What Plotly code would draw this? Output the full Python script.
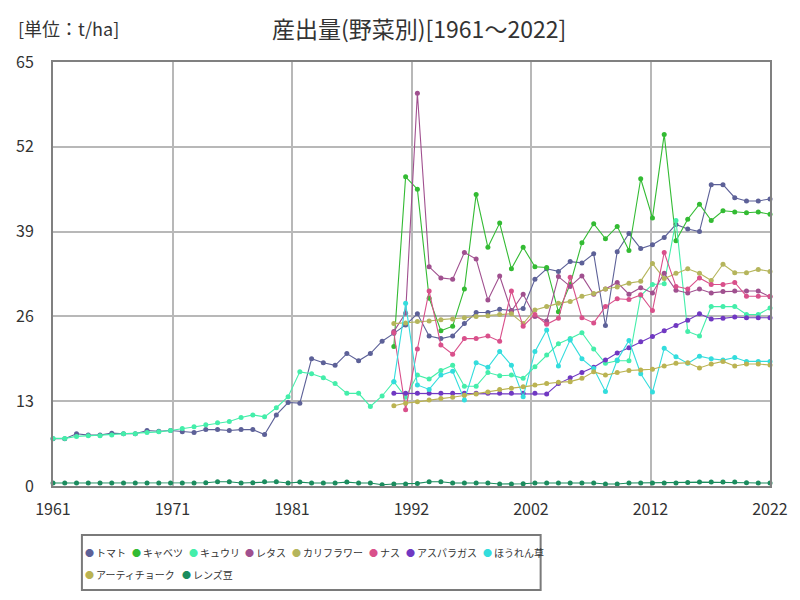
import plotly.graph_objects as go

years_all = list(range(1961, 2023))
years_90 = list(range(1990, 2023))

tomato = [7.25, 7.25, 8.0, 7.8, 7.8, 8.1, 8.0, 8.0, 8.5, 8.4,
          8.5, 8.3, 8.2, 8.65, 8.65, 8.5, 8.65, 8.65, 7.9, 10.9,
          12.8, 12.7, 19.5, 18.9, 18.5, 20.3, 19.2, 20.3, 22.2, 23.4,
          24.7, 26.4, 23.0, 22.6, 23.0, 24.9, 26.6, 26.6, 27.1, 26.9,
          27.2, 31.7, 33.3, 32.9, 34.4, 34.2, 35.6, 24.6, 35.9, 38.7,
          36.4, 37.0, 38.1, 40.1, 39.4, 39.0, 46.2, 46.2, 44.2, 43.7,
          43.7, 44.0]
cabbage = [21.4, 47.4, 45.5, 28.8, 23.8, 24.5, 30.2, 44.7, 36.6, 40.3,
           33.3, 36.6, 33.6, 33.5, 26.7, 30.9, 37.3, 40.2, 37.9, 39.8,
           36.1, 47.1, 41.1, 53.9, 37.6, 40.9, 43.2, 40.7, 42.2, 42.0,
           41.9, 42.0, 41.65]
cucumber = [7.3, 7.3, 7.6, 7.7, 7.7, 7.8, 8.0, 8.0, 8.2, 8.3,
            8.5, 8.8, 9.1, 9.4, 9.7, 9.9, 10.5, 10.9, 10.6, 12.0,
            13.7, 17.5, 17.2, 16.6, 15.7, 14.2, 14.2, 12.2, 13.8, 16.0,
            13.6, 17.0, 16.4, 17.7, 18.5, 15.3, 15.3, 17.4, 16.9, 17.0,
            16.5, 18.3, 20.1, 21.8, 22.6, 23.5, 21.0, 18.8, 19.2, 19.2,
            29.2, 30.9, 31.0, 40.7, 23.7, 23.0, 27.5, 27.5, 27.5, 26.3,
            26.3, 27.3]
lettuce = [23.7, 26.5, 60.2, 33.6, 31.9, 31.7, 35.8, 34.8, 28.5, 32.2,
           26.8, 29.4, 26.0, 25.3, 32.1, 30.6, 32.2, 29.4, 30.2, 31.2,
           29.4, 30.4, 29.6, 32.6, 30.0, 29.6, 30.2, 29.6, 29.8, 29.9,
           29.9, 29.9, 29.0]
cauliflower = [24.9, 25.0, 25.2, 25.3, 25.5, 25.6, 25.8, 26.0, 26.1, 26.3,
               26.4, 24.9, 27.0, 27.5, 28.0, 28.3, 29.1, 29.5, 30.2, 30.5,
               31.1, 31.4, 34.1, 31.8, 32.6, 33.3, 32.6, 31.5, 34.0, 32.7,
               32.7, 33.2, 32.9]
eggplant = [23.5, 11.7, 21.0, 29.9, 21.6, 20.2, 22.6, 22.6, 23.0, 22.2,
            29.9, 24.5, 26.3, 24.8, 25.7, 32.0, 25.8, 25.0, 27.5, 28.7,
            28.6, 29.3, 26.9, 35.8, 30.6, 30.2, 31.9, 30.9, 30.9, 31.2,
            29.1, 29.1, 29.1]
asparagus = [14.2, 14.2, 14.2, 14.2, 14.2, 14.2, 14.2, 14.2, 14.2, 14.2,
             14.2, 14.2, 14.2, 14.1, 15.7, 16.6, 17.4, 18.2, 19.3, 20.4,
             21.2, 22.1, 22.9, 23.8, 24.6, 25.4, 26.4, 25.6, 25.7, 25.9,
             25.8, 25.8, 25.8]
spinach = [16.0, 28.0, 15.5, 14.8, 17.0, 17.6, 13.2, 18.9, 18.2, 20.6,
           18.5, 13.7, 20.6, 23.9, 18.4, 22.4, 19.5, 18.0, 14.5, 19.3,
           22.3, 17.2, 14.4, 21.1, 19.8, 18.8, 19.9, 19.5, 19.3, 19.7,
           19.1, 19.1, 19.1]
artichoke = [12.3, 12.7, 12.9, 13.2, 13.4, 13.6, 13.9, 14.1, 14.4, 14.8,
             15.0, 15.2, 15.5, 15.7, 15.9, 16.0, 16.5, 17.5, 17.0, 17.4,
             17.7, 17.8, 17.9, 18.4, 18.8, 18.9, 18.1, 18.7, 19.1, 18.4,
             18.7, 18.7, 18.55]
lentil = [0.45, 0.45, 0.45, 0.45, 0.45, 0.45, 0.45, 0.45, 0.45, 0.45,
          0.45, 0.45, 0.45, 0.5, 0.65, 0.65, 0.45, 0.5, 0.65, 0.65,
          0.45, 0.6, 0.45, 0.45, 0.45, 0.6, 0.45, 0.45, 0.2, 0.3,
          0.3, 0.4, 0.65, 0.65, 0.45, 0.45, 0.45, 0.45, 0.3, 0.3,
          0.35, 0.45, 0.45, 0.45, 0.45, 0.45, 0.45, 0.3, 0.3, 0.45,
          0.45, 0.45, 0.45, 0.45, 0.55, 0.6, 0.6, 0.6, 0.6, 0.5,
          0.45, 0.45]

series = [
    ("トマト", years_all, tomato, "#5d6198"),
    ("キャベツ", years_90, cabbage, "#33bb33"),
    ("キュウリ", years_all, cucumber, "#44eeaa"),
    ("レタス", years_90, lettuce, "#a0508f"),
    ("カリフラワー", years_90, cauliflower, "#b5b55c"),
    ("ナス", years_90, eggplant, "#d9508b"),
    ("アスパラガス", years_90, asparagus, "#7038c2"),
    ("ほうれん草", years_90, spinach, "#33dddd"),
    ("アーティチョーク", years_90, artichoke, "#bbb352"),
    ("レンズ豆", years_all, lentil, "#1b8c5e"),
]
legend_rows = [8, 2]  # entries per legend row

x_tick_labels = ["1961", "1971", "1981", "1992", "2002", "2012", "2022"]
y_tick_vals = [0, 13, 26, 39, 52, 65]

FONT = "Noto Sans CJK JP"
W, H = 800, 600
ML, MR, MT, MB = 53, 28, 62, 114
PW, PH = W - ML - MR, H - MT - MB


def px_x(p):
    return (p - ML) / PW


def px_y(p):
    return (H - MB - p) / PH


fig = go.Figure()
for name, xs, ys, col in series:
    fig.add_trace(go.Scatter(
        x=xs, y=ys, mode="lines+markers", name=name, showlegend=False,
        line=dict(color=col, width=1.1),
        marker=dict(color=col, size=5),
        cliponaxis=False,
    ))

x0, x1 = 1961, 2022
tickvals_x = [x0 + (x1 - x0) * k / 6 for k in range(7)]

# legend built from the series list: coloured dot + name, in two rows
LFS = 10          # legend font size (full-width glyphs -> 1em each)
annos = []
idx = 0
row_y = [552, 574]
for r, n in enumerate(legend_rows):
    cur = 86
    for name, _, _, col in series[idx:idx + n]:
        annos.append(dict(text="●", x=px_x(cur + 3.5), y=px_y(row_y[r]),
                          xref="paper", yref="paper", showarrow=False,
                          xanchor="center", yanchor="middle",
                          font=dict(size=9, color=col, family=FONT)))
        annos.append(dict(text=name, x=px_x(cur + 8), y=px_y(row_y[r]),
                          xref="paper", yref="paper", showarrow=False,
                          xanchor="left", yanchor="middle",
                          font=dict(size=LFS, color="#333", family=FONT)))
        cur += 8 + len(name) * LFS + 9
    idx += n

annos += [
    dict(text="産出量(野菜別)[1961～2022]", x=px_x(420), y=px_y(28), xref="paper", yref="paper",
         showarrow=False, xanchor="center", yanchor="middle",
         font=dict(size=23, color="#333", family=FONT)),
    dict(text="[単位：t/ha]", x=px_x(16), y=px_y(28), xref="paper", yref="paper",
         showarrow=False, xanchor="left", yanchor="middle",
         font=dict(size=18, color="#333", family=FONT)),
]

fig.update_layout(
    width=W, height=H,
    margin=dict(l=ML, r=MR, t=MT, b=MB),
    plot_bgcolor="white", paper_bgcolor="white",
    font=dict(family=FONT, color="#333333"),
    showlegend=False,
    xaxis=dict(range=[x0, x1], tickvals=tickvals_x, ticktext=x_tick_labels,
               showgrid=True, gridcolor="#b8b8b8", gridwidth=2,
               showline=True, linecolor="#808080", linewidth=2, mirror=True,
               zeroline=False, tickfont=dict(size=16, color="#333"),
               ticks="", ticklabelstandoff=8),
    yaxis=dict(range=[0, 65], tickvals=y_tick_vals,
               showgrid=True, gridcolor="#b8b8b8", gridwidth=2,
               showline=True, linecolor="#808080", linewidth=2, mirror=True,
               zeroline=False, tickfont=dict(size=16, color="#333"),
               ticks="", ticklabelstandoff=14),
    shapes=[dict(type="rect", xref="paper", yref="paper",
                 x0=px_x(82), x1=px_x(542), y0=px_y(590), y1=px_y(535),
                 line=dict(color="#7a7a7a", width=2), fillcolor="rgba(0,0,0,0)")],
    annotations=annos,
)

fig.write_html("out.html")
